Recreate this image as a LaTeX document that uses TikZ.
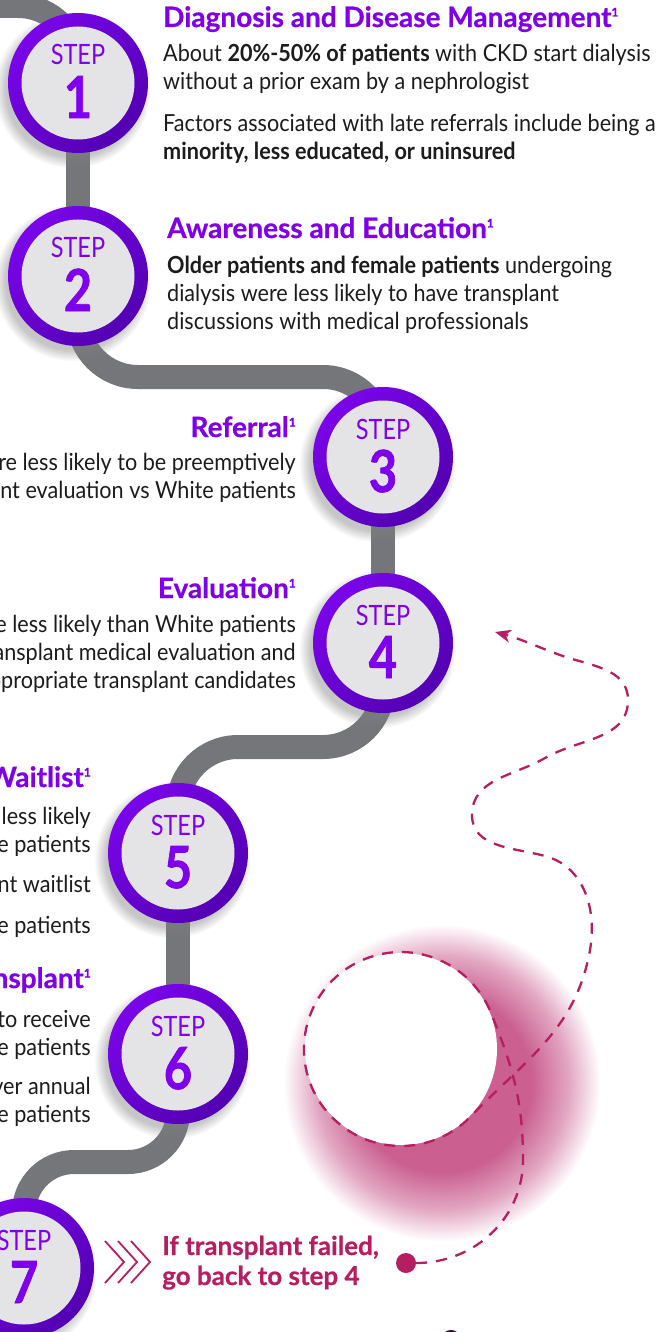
\documentclass[tikz,border=0pt]{standalone}
\usepackage{fontspec}
\setmainfont{Lato}[FakeStretch=0.92]
\newfontfamily\headfont{Lato}[BoldFeatures={FakeBold=0.6}]
\newfontfamily\stepfont{Lato}[FakeStretch=0.84, BoldFeatures={FakeBold=1.2}]
\usetikzlibrary{shadows,fadings,arrows.meta}
\definecolor{ringlight}{HTML}{7A05EA}
\definecolor{ringdark}{HTML}{5300B2}
\definecolor{discgray}{HTML}{E4E4E6}
\definecolor{steppurple}{HTML}{7E00EC}
\definecolor{titlepurple}{HTML}{7F00E6}
\definecolor{roadgray}{HTML}{75767A}
\definecolor{loopred}{HTML}{B51E60}
\definecolor{glowpink}{HTML}{CA5F90}
\definecolor{bodyblack}{HTML}{1C1C1C}
\definecolor{blobdark}{HTML}{2A0A4C}
\pgfdeclareradialshading{glowmask}{\pgfpointorigin}{color(0bp)=(pgftransparent!0); color(14bp)=(pgftransparent!0); color(20bp)=(pgftransparent!45); color(25bp)=(pgftransparent!100); color(50bp)=(pgftransparent!100)}
\pgfdeclarefading{glowfade}{\pgfuseshading{glowmask}}
\newcommand{\refmark}{\raisebox{10.5pt}{\fontsize{12}{12}\selectfont 1}}
\begin{document}
\begin{tikzpicture}[x=1pt,y=1pt]
	\tikzstyle{every node}=[inner sep=0pt]
	\tikzstyle{road}=[line width=24pt, draw=roadgray, rounded corners=60pt]
	\tikzstyle{ring}=[circle, minimum size=140pt, top color=ringlight, bottom color=ringdark, shading angle=45,
		circular drop shadow={shadow xshift=-5pt, shadow yshift=-6pt, shadow scale=1.12, opacity=.45},
		path picture={\fill[discgray] (path picture bounding box.center) circle (56.5pt);}]
	\tikzstyle{steptag}=[anchor=base, text=steppurple, font=\stepfont\fontsize{28}{28}\selectfont]
	\tikzstyle{stepnum}=[anchor=base, text=steppurple, font=\stepfont\fontsize{58}{58}\selectfont\bfseries]
	\tikzstyle{head}=[text=titlepurple, font=\headfont\fontsize{28}{30}\selectfont\bfseries]
	\tikzstyle{body}=[text=bodyblack, font=\fontsize{23.5}{28}\selectfont]
	\tikzstyle{failtext}=[text=loopred, align=left, font=\headfont\fontsize{26}{30}\selectfont\bfseries]
	\tikzstyle{loop}=[draw=loopred, line width=2.3pt, dash pattern=on 11pt off 9pt]
	\useasboundingbox (0,0) rectangle (666,-1332);
	\foreach \n/\x/\y in {1/78/83, 2/78/276, 3/383/457, 4/383/643, 5/178/853, 6/178/1054, 7/24/1268}
		\coordinate (c\n) at (\x,-\y);
	\coordinate (start) at (-20,-6);
	\draw[road] (start) -- (78,-6) -- (c1);
	\draw[road] (c1) -- (c2);
	\draw[road] (c2) -- (78,-377) -- (383,-377) -- (c3);
	\draw[road] (c3) -- (c4);
	\draw[road] (c4) -- (383,-747) -- (178,-747) -- (c5);
	\draw[road] (c5) -- (c6);
	\draw[road, rounded corners=50pt] (c6) -- (178,-1162) -- (24,-1162) -- (c7);
	\foreach \n in {1,...,7} {
		\node[ring] (s\n) at (c\n) {};
		\node[steptag] (t\n) at ([yshift=18pt]s\n.center) {STEP};
		\node[stepnum] (n\n) at ([yshift=-35pt]s\n.center) {\n};
	}
	\node[head, anchor=base west] (h1) at (163,-27) {Diagnosis and Disease Management\refmark};
	\node[body, anchor=base west, align=left] (b1) at (163,-160) {About \textbf{20\%-50\% of patients} with CKD start dialysis\\without a prior exam by a nephrologist\\[14pt]Factors associated with late referrals include being a\\\textbf{minority, less educated, or uninsured}};
	\node[head, anchor=base west] (h2) at (167,-238) {Awareness and Education\refmark};
	\node[body, anchor=base west, align=left] (b2) at (167,-329) {\textbf{Older patients and female patients} undergoing\\dialysis were less likely to have transplant\\discussions with medical professionals};
	\node[head, anchor=base east] (h3) at (296,-437) {Referral\refmark};
	\node[body, anchor=base east, align=right] (b3) at (296,-498) {ere less likely to be preemptively\\ant evaluation vs White patients};
	\node[head, anchor=base east] (h4) at (296,-598) {Evaluation\refmark};
	\node[body, anchor=base east, align=right] (b4) at (296,-688) {re less likely than White patients\\ansplant medical evaluation and\\ppropriate transplant candidates};
	\node[head, anchor=base east] (h5) at (91,-787) {Waitlist\refmark};
	\node[body, anchor=base east, align=right] (b5) at (91,-933) {less likely\\e patients\\[12pt]ant waitlist\\[13pt]e patients};
	\node[head, anchor=base east] (h6) at (91,-988) {nsplant\refmark};
	\node[body, anchor=base east, align=right] (b6) at (91,-1122) {to receive\\e patients\\[11pt]ver annual\\e patients};
	\foreach \i in {0,1,2}
		\draw[loopred, line width=1.8pt] (105+13*\i,-1241) -- ++(19,-21) -- ++(-19,-21);
	\node[failtext, anchor=base west] (f7) at (162,-1285) {If transplant failed,\\go back to step 4};
	\fill[glowpink, path fading=glowfade] (442,-1083) circle (158);
	\fill[white] (401,-1049) circle (96);
	\node[circle, fill=loopred, minimum size=20pt] (dot) at (406,-1263) {};
	\coordinate (back) at (495,-632);
	\draw[loop, -{Stealth[length=16pt, width=13pt, inset=5pt]}] (dot.east) to[out=0,in=-90] (523,-1160)
		to[out=90,in=-68] (490.9,-1012.7) arc[start angle=22, end angle=316, radius=97]
		to[out=46,in=-100] (590,-950) to[out=80,in=-15] (545,-856) to[out=165,in=-90] (472,-815)
		to[out=90,in=210] (545,-758) to[out=30,in=-90] (628,-700) to[out=90,in=-20] (560,-655)
		to[out=160,in=-15] (back);
	\fill[blobdark] (451,-1338) ellipse (9 and 8);
\end{tikzpicture}
\end{document}
